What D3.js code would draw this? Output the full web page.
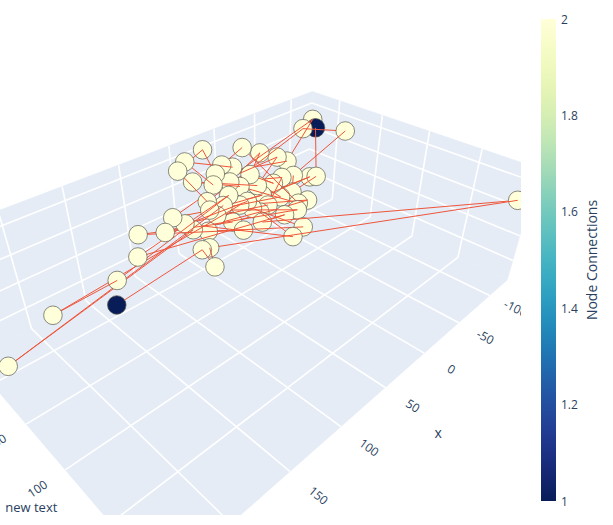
<!DOCTYPE html>
<html><head><meta charset="utf-8">
<script src="https://cdn.jsdelivr.net/npm/d3@7"></script>
<style>body{margin:0;background:#fff}</style></head>
<body><svg id="chart" width="613" height="525"></svg>
<script>
// node positions (data units) and the path that links them
const nodeX = [-98,-88,-104,-105,24,-12,-26,47,58,52,17,28,9,-3,-40,-48,-46,-33,-62,-64,36,20,13,-4,-21,-4,-21,-36,-28,-38,50,52,38,23,14,12,-4,7,-19,48,37,37,17,86,98,79,75,63,-2,15,80,74,88,120,129,152,205,241,167,-131,28,-5];
const nodeY = [-1,-8,-10,29,-23,-12,-4,-19,-15,-4,-7,-3,-2,7,4,9,19,17,25,31,3,6,11,15,18,21,27,27,42,44,11,16,17,21,21,25,28,29,49,20,27,40,42,11,16,17,22,26,71,75,38,40,62,12,22,27,28,21,48,189,13,47];
const nodeZ = [44,44,48,48,54,48,41,52,49,41,43,40,40,32,35,30,20,22,15,17,35,33,28,24,21,17,11,10,8,8,28,23,22,18,18,12,10,8,8,18,10,8,8,28,22,22,17,12,8,8,8,8,8,28,17,10,9,-19,8,30,26,8];
const pathOrder = [0,19,27,16,3,1,30,8,4,11,15,2,43,26,12,7,20,14,23,9,22,28,5,10,24,13,6,21,17,36,39,18,34,44,38,31,25,32,57,46,37,49,45,35,48,47,41,53,40,29,33,56,55,60,54,61,42,59,51,52,50,58];

const xRange = [-131.1, 249.5], yRange = [-34.9, 198.5], zRange = [-46, 62];
const xTicks = [-100,-50,0,50,100,150,200];
const yTicks = [0,50,100,150];
const zTicks = [-25,0,25,50];
const cbTicks = [1,1.2,1.4,1.6,1.8,2];

const camera = {eye:[1.4336,1.4527,1.4658], center:[0.0728,0.0745,0.0974], focal:621.35, cx:260.5, cy:257.5};
const aspect = {x:1, y:0.6219, z:0.2886};

const svg = d3.select("#chart");
const font = '"Open Sans", verdana, arial, sans-serif';
const ink = "#2a3f5f";

const sx = d3.scaleLinear().domain(xRange).range([-aspect.x, aspect.x]);
const sy = d3.scaleLinear().domain(yRange).range([-aspect.y, aspect.y]);
const sz = d3.scaleLinear().domain(zRange).range([-aspect.z, aspect.z]);

// camera basis
const sub = (a,b)=>[a[0]-b[0],a[1]-b[1],a[2]-b[2]];
const dot = (a,b)=>a[0]*b[0]+a[1]*b[1]+a[2]*b[2];
const cross = (a,b)=>[a[1]*b[2]-a[2]*b[1],a[2]*b[0]-a[0]*b[2],a[0]*b[1]-a[1]*b[0]];
const unit = a=>{const l=Math.hypot(...a);return a.map(v=>v/l);};
const fwd = unit(sub(camera.center, camera.eye));
const right = unit(cross(fwd,[0,0,1]));
const upv = cross(right, fwd);

function project(x,y,z){
  const d = sub([sx(x),sy(y),sz(z)], camera.eye);
  const depth = dot(d,fwd);
  return [camera.cx + camera.focal*dot(d,right)/depth, camera.cy - camera.focal*dot(d,upv)/depth, depth];
}

svg.append("defs").append("clipPath").attr("id","scene")
  .append("rect").attr("x",0).attr("y",0).attr("width",521).attr("height",515);
const scene = svg.append("g").attr("clip-path","url(#scene)");

const [x0,x1] = xRange, [y0,y1] = yRange, [z0,z1] = zRange;
const walls = [
  [[x0,y0,z0],[x1,y0,z0],[x1,y1,z0],[x0,y1,z0]],
  [[x0,y0,z0],[x0,y1,z0],[x0,y1,z1],[x0,y0,z1]],
  [[x0,y0,z0],[x1,y0,z0],[x1,y0,z1],[x0,y0,z1]]
];
scene.selectAll(".wall").data(walls).join("path").attr("class","wall")
  .attr("d",d=>"M"+d.map(p=>project(...p).slice(0,2).join(",")).join("L")+"Z")
  .attr("fill","#E5ECF6").attr("stroke","#E5ECF6").attr("stroke-width",0.5);

// grid lines on floor and back walls
const grid = [];
xTicks.forEach(v=>{grid.push([[v,y0,z0],[v,y1,z0]]); grid.push([[v,y0,z0],[v,y0,z1]]);});
yTicks.forEach(v=>{grid.push([[x0,v,z0],[x1,v,z0]]); grid.push([[x0,v,z0],[x0,v,z1]]);});
zTicks.forEach(v=>{grid.push([[x0,y0,v],[x0,y1,v]]); grid.push([[x0,y0,v],[x1,y0,v]]);});
scene.selectAll(".grid").data(grid).join("line").attr("class","grid")
  .each(function(d){const a=project(...d[0]),b=project(...d[1]);
    d3.select(this).attr("x1",a[0]).attr("y1",a[1]).attr("x2",b[0]).attr("y2",b[1]);})
  .attr("stroke","#fff").attr("stroke-width",1.6);

// tick labels, turned along the other floor axis
const xs = x1-x0, ys = y1-y0, zs = z1-z0;
function angle(a,b){return Math.atan2(b[1]-a[1],b[0]-a[0])*180/Math.PI;}
const xLab = xTicks.map(v=>({t:v,p:project(v,y1+0.1*ys,z0),
  a:angle(project(v,y1,z0),project(v,y1+ys*0.2,z0))}));
const yLab = yTicks.map(v=>({t:v,p:project(x1+0.05*xs,v,z0),
  a:angle(project(x1,v,z0),project(x1-xs*0.2,v,z0))}));
scene.selectAll(".tick").data(xLab.concat(yLab).filter(d=>d.p[1]<505&&d.p[0]>-8)).join("text").attr("class","tick")
  .attr("transform",d=>`translate(${d.p[0]},${d.p[1]}) rotate(${d.a})`)
  .attr("text-anchor","middle").attr("dominant-baseline","central")
  .attr("font-family",font).attr("font-size",12).attr("fill",ink)
  .text(d=>d.t);
const xt = project((x0+x1)/2, y1+0.2*ys, z0);
scene.append("text").attr("x",xt[0]+3).attr("y",xt[1]).attr("text-anchor","middle")
  .attr("dominant-baseline","central").attr("font-family",font).attr("font-size",14).attr("fill",ink).text("x");
const yt = project(x1+0.06*xs, (y0+y1)/2, z0-0.32*zs);
scene.append("text").attr("x",yt[0]+2).attr("y",yt[1]).attr("text-anchor","middle")
  .attr("dominant-baseline","central").attr("font-family",font).attr("font-size",13).attr("fill",ink).text("new text");

// network
const nodes = nodeX.map((x,i)=>({i,p:project(x,nodeY[i],nodeZ[i]),deg:0}));
const links = d3.pairs(pathOrder);
links.forEach(([a,b])=>{nodes[a].deg++; nodes[b].deg++;});
const color = d3.scaleSequential(t=>d3.interpolateYlGnBu(1-t)).domain([1,2]);

const items = nodes.map(n=>({kind:"n",n,depth:n.p[2]}))
  .concat(links.map(([a,b])=>({kind:"l",a:nodes[a].p,b:nodes[b].p,depth:(nodes[a].p[2]+nodes[b].p[2])/2})))
  .sort((u,v)=>v.depth-u.depth);
const net = scene.append("g");
items.forEach(it=>{
  if(it.kind==="l"){
    net.append("line").attr("x1",it.a[0]).attr("y1",it.a[1]).attr("x2",it.b[0]).attr("y2",it.b[1])
      .attr("stroke","#EF553B").attr("stroke-width",1);
  } else {
    net.append("circle").attr("cx",it.n.p[0]).attr("cy",it.n.p[1]).attr("r",9.3)
      .attr("fill",color(it.n.deg)).attr("stroke","rgb(90,90,80)").attr("stroke-width",0.7);
  }
});

// colorbar
const cy = d3.scaleLinear().domain([1,2]).range([501,19]);
const grad = svg.select("defs").append("linearGradient").attr("id","cb")
  .attr("x1",0).attr("y1",1).attr("x2",0).attr("y2",0);
d3.range(0,1.0001,0.05).forEach(t=>grad.append("stop").attr("offset",t).attr("stop-color",color(1+t)));
svg.append("rect").attr("x",541).attr("y",cy(2)).attr("width",15).attr("height",cy(1)-cy(2)).attr("fill","url(#cb)");
svg.selectAll(".cbt").data(cbTicks).join("text").attr("class","cbt")
  .attr("x",561).attr("y",d=>cy(d)).attr("dominant-baseline","central")
  .attr("font-family",font).attr("font-size",12).attr("fill",ink).text(d=>d);
svg.append("text").attr("transform",`translate(597,${(cy(1)+cy(2))/2}) rotate(-90)`)
  .attr("text-anchor","middle").attr("font-family",font).attr("font-size",14).attr("fill",ink)
  .text("Node Connections");
</script></body></html>
